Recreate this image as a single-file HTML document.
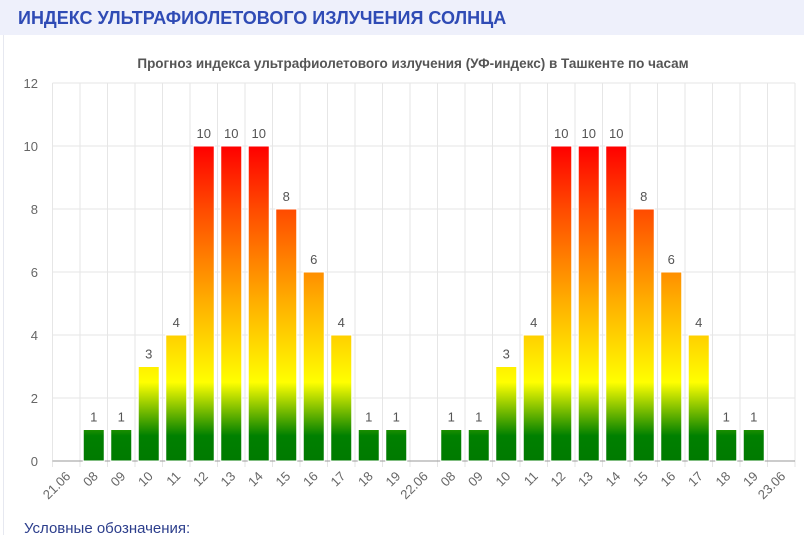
<!DOCTYPE html>
<html><head><meta charset="utf-8">
<style>
body{margin:0;width:804px;height:528px;overflow:hidden;background:#fff;font-family:"Liberation Sans",sans-serif;}
#hdr{position:absolute;left:0;top:0;width:804px;height:35px;background:#eef0fb;}
#hdr span{position:absolute;left:18px;top:8px;font-size:18px;font-weight:bold;color:#2f4bb5;}
#frame{position:absolute;left:3px;top:35px;width:801px;height:500px;border-left:1px solid #e6e8f0;}
#legend{position:absolute;left:24px;top:520px;font-size:15px;color:#2c3e8c;}
</style></head><body>
<div id="hdr"><span>ИНДЕКС УЛЬТРАФИОЛЕТОВОГО ИЗЛУЧЕНИЯ СОЛНЦА</span></div>
<div id="frame"></div>
<svg id="chart" width="804" height="528" style="position:absolute;left:0;top:0">
<defs>
<linearGradient id="uvg" gradientUnits="userSpaceOnUse" x1="0" y1="461" x2="0" y2="146">
<stop offset="0" stop-color="#007a00"/>
<stop offset="0.08" stop-color="#008000"/>
<stop offset="0.25" stop-color="#ffff00"/>
<stop offset="0.5" stop-color="#ffb000"/>
<stop offset="0.8" stop-color="#ff4a00"/>
<stop offset="1" stop-color="#ff0000"/>
</linearGradient>
</defs>
<text x="413" y="68" text-anchor="middle" font-size="13.5" font-weight="bold" fill="#555">Прогноз индекса ультрафиолетового излучения (УФ-индекс) в Ташкенте по часам</text>
</svg>
<div id="legend">Условные обозначения:</div>
<script>
const categories=["21.06","08","09","10","11","12","13","14","15","16","17","18","19","22.06","08","09","10","11","12","13","14","15","16","17","18","19","23.06"];
const uvValues=[null,1,1,3,4,10,10,10,8,6,4,1,1,null,1,1,3,4,10,10,10,8,6,4,1,1,null];
const yTicks=[0,2,4,6,8,10,12];
const svg=document.getElementById('chart');
const NS='http://www.w3.org/2000/svg';
const x0=52.5,x1=795,y0=461,y1=83,yMax=12;
const band=(x1-x0)/categories.length;
const xPos=i=>x0+band*(i+0.5);
const yPos=v=>y0-(v/yMax)*(y0-y1);
function mk(t,a){const e=document.createElementNS(NS,t);for(const k in a)e.setAttribute(k,a[k]);svg.appendChild(e);return e;}
yTicks.forEach(t=>{
 const l=mk('line',{x1:x0,x2:x1,y1:yPos(t),y2:yPos(t),stroke:'#e6e6e6'});
 
 
 const tx=mk('text',{x:38,y:yPos(t)+5,'text-anchor':'end','font-size':13,fill:'#666'});
 tx.textContent=t;
 
 
});
for(let i=0;i<=categories.length;i++){
 const gx=x0+band*i;
 const l=mk('line',{x1:gx,x2:gx,y1:y1,y2:y0+6,stroke:'#e6e6e6'});
 
 
}
mk('line',{x1:x0,x2:x1,y1:y0,y2:y0,stroke:'#999'});
categories.forEach((c,i)=>{
 const cx=xPos(i);
 const t=mk('text',{x:cx+5,y:y0+16,'text-anchor':'end','font-size':13,fill:'#666',transform:`rotate(-45 ${cx+5} ${y0+16})`});
 t.textContent=c;
 
 
 const v=uvValues[i];
 if(v==null)return;
 const r=mk('rect',{x:cx-10.5,y:yPos(v),width:21,height:y0-yPos(v),fill:'url(#uvg)',stroke:'#fff','stroke-width':1});
 
 
 const lb=mk('text',{x:cx,y:yPos(v)-8,'text-anchor':'middle','font-size':13,fill:'#555'});
 lb.textContent=v;
 
 
});
</script>
</body></html>
